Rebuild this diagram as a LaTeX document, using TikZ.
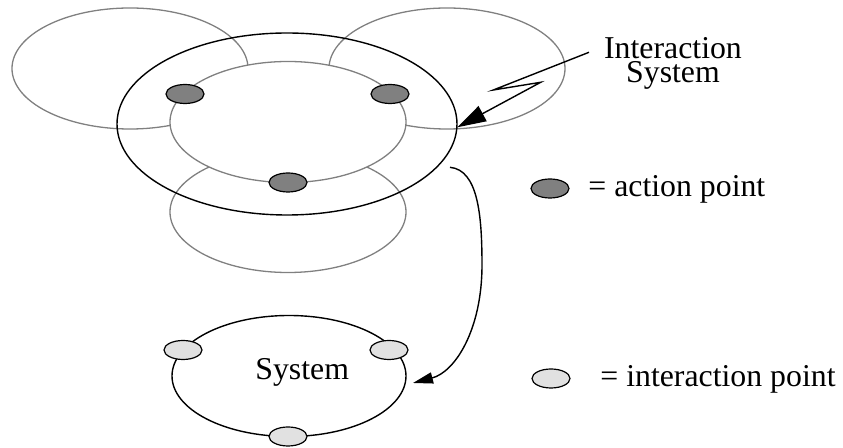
\documentclass[tikz,border=0pt]{standalone}
\usepackage{fontspec}
\setmainfont{Liberation Serif}
\usetikzlibrary{positioning,shapes.geometric,arrows.meta}
\definecolor{RingGray}{RGB}{128,128,128}
\definecolor{ActGray}{RGB}{128,128,128}
\definecolor{IntGray}{RGB}{225,225,225}

\begin{document}
\begin{tikzpicture}[x=0.5pt,y=-0.5pt,
	ring/.style={ellipse,draw=RingGray,line width=0.65pt,minimum width=118pt,
	minimum height=60.5pt,inner sep=0pt,outer sep=0pt},
	actpt/.style={ellipse,draw,fill=ActGray,line width=0.6pt,minimum width=19pt,
	minimum height=9.5pt,inner sep=0pt},
	intpt/.style={actpt,fill=IntGray},
	lbl/.style={inner sep=0pt,font=\fontsize{15.9}{12.2}\selectfont}]
			\useasboundingbox (0,0) rectangle (843,448);
			% rings round the interaction system
			\node [ring, name = L] at (130,68.5) {};
			\node [ring, name = R] at (447,68.5) {};
			\node [ring, name = B] at (288,212) {};
			\node [ellipse,draw,line width=0.7pt,minimum width=170pt,minimum height=91pt,
			inner sep=0pt,outer sep=0pt, name = IS] at (287,124) {};
			\node [ring, fill=white, name = I] at (288,122) {};
			\node [actpt, name = a1] at (185,94) {};
			\node [actpt, name = a2] at (390,94) {};
			\node [actpt, name = a3] at (288,182.5) {};
			% the system
			\node [ellipse,draw,line width=0.7pt,minimum width=117pt,minimum height=60.5pt,
			inner sep=0pt,outer sep=0pt, name = S] at (289,376) {};
			\node [intpt, name = i1] at (183,350) {};
			\node [intpt, name = i2] at (389,350) {};
			\node [intpt, name = i3] at (288,436.5) {};
			\node [lbl, anchor=base west, name = stxt] at (255,380) {System};
			% labels and legend
			\node [lbl, align=center, name = istxt] at (673,63.5) {Interaction\\System};
			\node [actpt, name = ka] at (550,188.5) {};
			\node [lbl, anchor=base west, name = katxt] at (588,196.7) {= action point};
			\node [intpt, name = ki] at (551,378.5) {};
			\node [lbl, anchor=base west, name = kitxt] at (600,386.3) {= interaction point};
			% arrows
			\coordinate (zig) at (589,52.3);
			\coordinate (cstart) at (450,167.3);
			\coordinate (cend) at (413,383);
			\draw [line width=0.7pt,-{Triangle[length=14.4pt,width=8.5pt]}]
			(zig) -- (493.3,90) -- (540.7,82.3) -- (457.3,127.3);
			\draw [line width=0.7pt,-{Triangle[length=10pt,width=5.6pt]}]
			(cstart) .. controls (478,170) and (482,215) .. (482,265)
			.. controls (482,330) and (455,372) .. (cend);
		\end{tikzpicture}
\end{document}
